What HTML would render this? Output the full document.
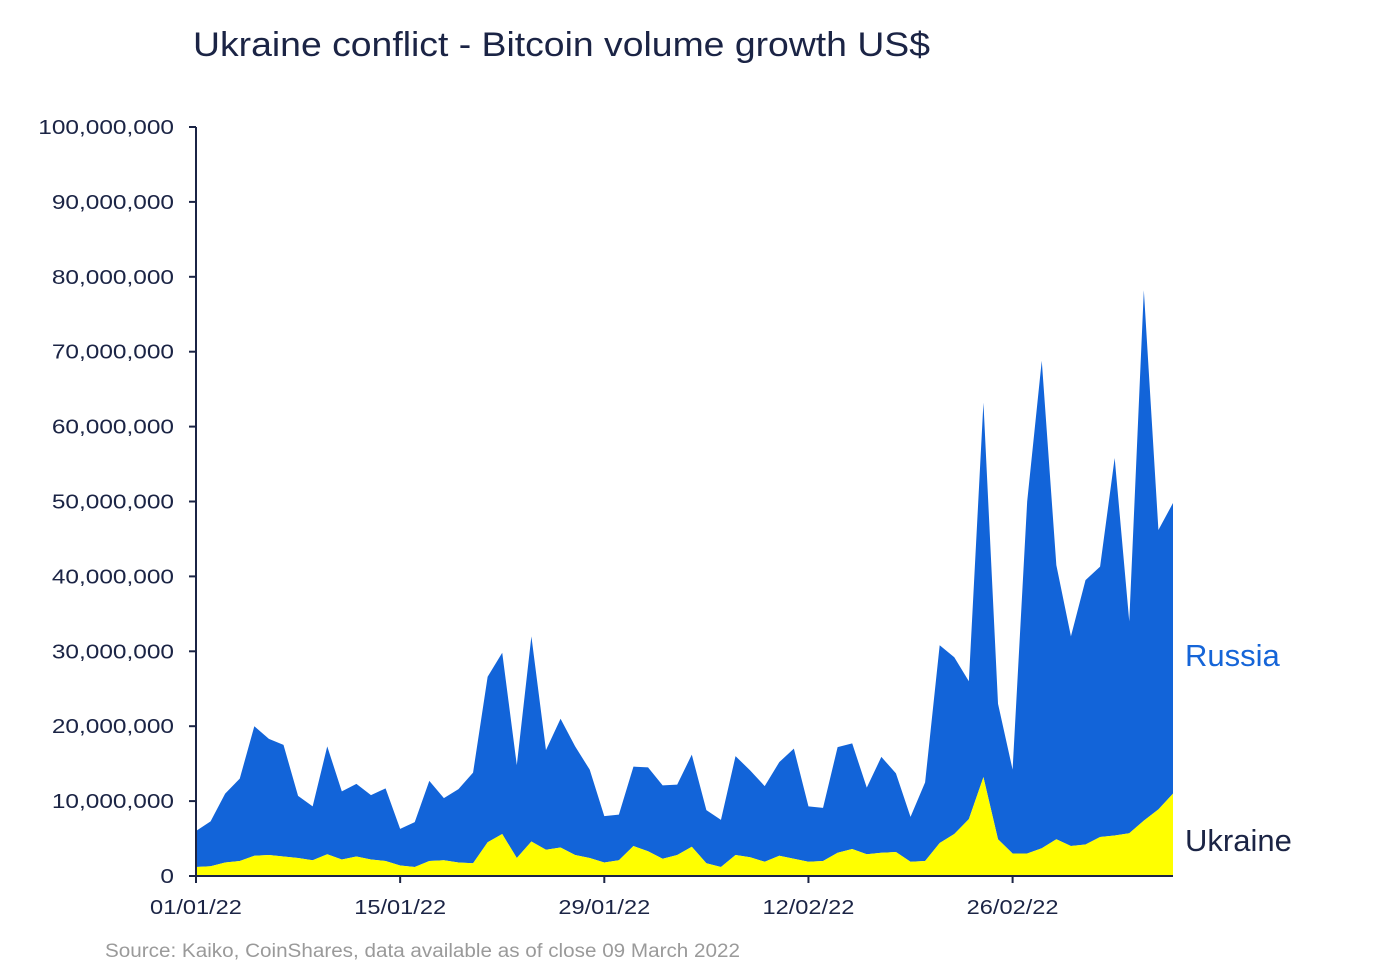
<!DOCTYPE html>
<html><head><meta charset="utf-8"><style>
body{margin:0;background:#fff;}
svg{display:block;font-family:"Liberation Sans",sans-serif;}
</style></head><body>
<svg id="chart" width="1400" height="977">
<text x="193" y="56" font-size="34" fill="#1b2445" textLength="737" lengthAdjust="spacingAndGlyphs">Ukraine conflict - Bitcoin volume growth US$</text>
<g id="areas"></g>
<g id="axes"></g>
<text x="1185" y="666" font-size="31" fill="#1565d8">Russia</text>
<text x="1185" y="851" font-size="31" fill="#1b2445">Ukraine</text>
<text x="105" y="957" font-size="19" fill="#9a9a9a" textLength="635" lengthAdjust="spacingAndGlyphs">Source: Kaiko, CoinShares, data available as of close 09 March 2022</text>
</svg>
<script>
const ukraine=[1.2,1.3,1.8,2.0,2.7,2.8,2.6,2.4,2.1,2.9,2.2,2.6,2.2,2.0,1.4,1.2,2.0,2.1,1.8,1.7,4.5,5.6,2.4,4.6,3.5,3.8,2.8,2.4,1.8,2.1,4.0,3.3,2.3,2.8,3.9,1.7,1.2,2.8,2.5,1.9,2.7,2.3,1.9,2.0,3.1,3.6,2.9,3.1,3.2,1.9,2.0,4.4,5.6,7.6,13.2,4.9,3.0,3.0,3.7,4.9,4.0,4.2,5.2,5.4,5.7,7.4,8.9,11.0];
const russia=[4.8,6.0,9.2,11.0,17.3,15.5,14.9,8.3,7.2,14.4,9.1,9.7,8.6,9.7,4.9,6.0,10.7,8.3,9.8,12.1,22.1,24.2,12.4,27.4,13.3,17.2,14.5,11.8,6.2,6.1,10.6,11.2,9.8,9.4,12.3,7.1,6.3,13.2,11.6,10.1,12.5,14.7,7.4,7.1,14.1,14.1,8.9,12.8,10.5,6.0,10.5,26.4,23.6,18.4,50.0,18.1,11.2,47.0,65.1,36.6,28.0,35.3,36.1,50.4,28.3,70.8,37.3,38.8];
const yTicks=[0,10,20,30,40,50,60,70,80,90,100];
const yTickLabels=["0","10,000,000","20,000,000","30,000,000","40,000,000","50,000,000","60,000,000","70,000,000","80,000,000","90,000,000","100,000,000"];
const xTickDays=[0,14,28,42,56];
const xTickLabels=["01/01/22","15/01/22","29/01/22","12/02/22","26/02/22"];

const NS="http://www.w3.org/2000/svg";
const X0=196,X1=1173,Y0=876,Y1=127;
const nPts=ukraine.length;
const xs=i=>X0+(X1-X0)*i/(nPts-1);
const ys=v=>Y0-(Y0-Y1)*v/100;
function mk(tag,attrs,parent){const e=document.createElementNS(NS,tag);for(const k in attrs)e.setAttribute(k,attrs[k]);parent.appendChild(e);return e;}
function stretch(el,f){const w=el.getComputedTextLength();if(w>0){el.setAttribute('textLength',w*f);el.setAttribute('lengthAdjust','spacingAndGlyphs');}}
const areasG=document.getElementById('areas'),axesG=document.getElementById('axes');
const topPts=[],midPts=[];
for(let i=0;i<nPts;i++){midPts.push([xs(i),ys(ukraine[i])]);topPts.push([xs(i),ys(ukraine[i]+russia[i])]);}
const dR="M"+topPts.map(p=>p.join(",")).join("L")+"L"+midPts.slice().reverse().map(p=>p.join(",")).join("L")+"Z";
const r=mk('path',{d:dR,fill:'#1264d9'},areasG);


const dU="M"+X0+","+Y0+"L"+midPts.map(p=>p.join(",")).join("L")+"L"+X1+","+Y0+"Z";
const u=mk('path',{d:dU,fill:'#ffff00'},areasG);


const ya=mk('line',{x1:X0,y1:Y1,x2:X0,y2:Y0,stroke:'#1b2445','stroke-width':2},axesG);


const xa=mk('line',{x1:X0,y1:Y0,x2:X1,y2:Y0,stroke:'#1b2445','stroke-width':2},axesG);


yTicks.forEach((v,i)=>{
  const y=ys(v);
  const t=mk('line',{x1:X0-7,y1:y,x2:X0,y2:y,stroke:'#1b2445','stroke-width':2},axesG);
  
  
  const l=mk('text',{x:174,y:y+7,'text-anchor':'end','font-size':20,fill:'#1b2445'},axesG);
  l.textContent=yTickLabels[i];
  
  
  stretch(l,1.22);
});
xTickDays.forEach((d,i)=>{
  const x=xs(d);
  const t=mk('line',{x1:x,y1:Y0,x2:x,y2:Y0+7,stroke:'#1b2445','stroke-width':2},axesG);
  
  
  const l=mk('text',{x:x,y:Y0+38,'text-anchor':'middle','font-size':20,fill:'#1b2445'},axesG);
  l.textContent=xTickLabels[i];
  
  
  stretch(l,1.18);
});
</script>
</body></html>
